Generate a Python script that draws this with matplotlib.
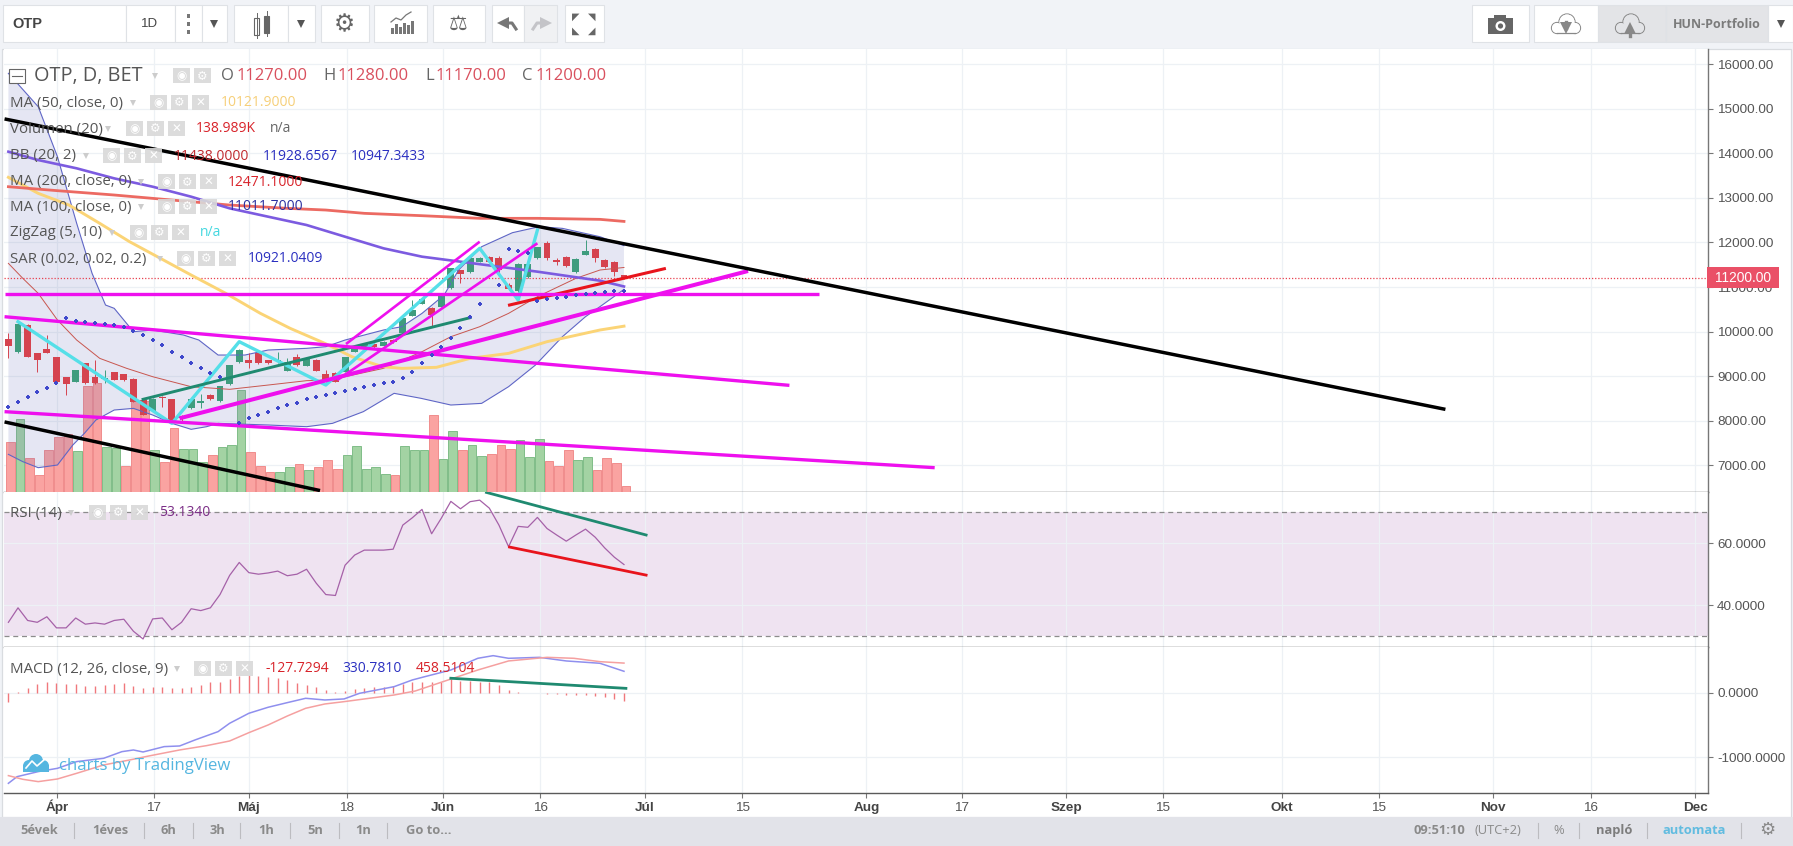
#!/usr/bin/env python3
"""OTP daily chart with indicators, drawn on a TradingView style screen."""
import numpy as np
import matplotlib
matplotlib.use("Agg")
import matplotlib.pyplot as plt
from matplotlib.patches import Rectangle, Circle

W, H = 1793, 846
UI_FONT = ["Open Sans", "DejaVu Sans"]
AXIS_FONT = ["Liberation Sans", "DejaVu Sans"]

# candles: open, high, low, close per bar
opens = [9830, 9535, 10150, 9510, 9610, 9440, 8990, 8880, 9290, 8990, 8930, 9090, 9040, 8940, 8470, 8230, 8540,
         8490, 8100, 8280, 8410, 8580, 8440, 8820, 9310, 9360, 9510, 9360, 9330, 9120, 9440, 9240, 9360, 9050,
         9080, 9100, 9550, 9620, 9730, 9680, 9820, 9960, 10350, 10620, 10540, 10560, 10970, 11380, 11330, 11570,
         11680, 11640, 11040, 10900, 11230, 11640, 11980, 11610, 11680, 11340, 11720, 11850, 11600, 11570, 11270]
highs = [9960, 10200, 10170, 9510, 9920, 9440, 8990, 9150, 9290, 9360, 9140, 9100, 9050, 8950, 8480, 8510, 8560,
         8500, 8130, 8510, 8610, 8590, 8790, 9260, 9610, 9510, 9530, 9370, 9550, 9400, 9500, 9420, 9380, 9150,
         9100, 9430, 9680, 9750, 9750, 9800, 9840, 10310, 10720, 10740, 10560, 10820, 11430, 11390, 11660, 11680,
         11690, 11690, 11080, 11530, 11530, 11900, 12030, 11640, 11700, 11650, 12054, 11870, 11620, 11590, 11280]
lows = [9400, 9530, 9430, 9100, 9510, 8870, 8580, 8870, 8830, 8830, 8840, 8910, 8900, 8420, 8120, 8220, 8300,
        8000, 8000, 8270, 8280, 8470, 8430, 8810, 9300, 9180, 9280, 9280, 9300, 9110, 9240, 9230, 9110, 8870,
        8860, 9090, 9540, 9610, 9640, 9670, 9750, 9950, 10340, 10610, 10110, 10550, 10960, 11080, 11320, 11560,
        11560, 11300, 10940, 10890, 11200, 11620, 11600, 11500, 11440, 11320, 11710, 11550, 11420, 11250, 11170]
closes = [9680, 10170, 9440, 9360, 9530, 8880, 8820, 9140, 8840, 8840, 8970, 8920, 8920, 8430, 8130, 8500, 8510,
          8020, 8060, 8500, 8440, 8480, 8780, 9250, 9590, 9300, 9290, 9300, 9360, 9320, 9250, 9400, 9120, 8880,
          8880, 9420, 9660, 9730, 9660, 9770, 9760, 10300, 10480, 10730, 10370, 10800, 11420, 11290, 11640, 11660,
          11570, 11380, 10950, 11510, 11510, 11890, 11640, 11550, 11460, 11630, 11800, 11640, 11440, 11340, 11200]

# volume in thousands, with the bar colour flag (1 green, 0 red)
volumes = [196, 288, 132, 64, 164, 216, 228, 160, 420, 432, 176, 172, 100, 360, 360, 164, 116, 252, 168, 168, 116,
           144, 176, 184, 404, 156, 100, 76, 76, 96, 108, 84, 96, 124, 88, 144, 180, 88, 96, 68, 64, 180, 164, 164,
           304, 128, 240, 164, 184, 140, 148, 184, 168, 204, 136, 208, 120, 100, 164, 124, 136, 84, 132, 112, 20]
volume_up = [0, 1, 0, 0, 0, 0, 0, 1, 0, 0, 1, 1, 0, 0, 0, 1, 0, 0, 1, 1, 1, 0, 1, 1, 1, 0, 0, 0, 1, 1, 0, 1, 0, 0,
             0, 1, 1, 1, 1, 1, 0, 1, 1, 1, 0, 1, 1, 0, 1, 1, 0, 0, 0, 1, 1, 1, 0, 0, 0, 1, 1, 0, 0, 0, 0]

# moving averages, read at sparse bars
ma50_x = [0, 3.1, 6.3, 9.5, 12.6, 15.8, 19, 22.6, 26.2, 29.3, 32.9, 35.7, 38.9, 40.9, 44.5, 48, 52, 56, 61.5, 64]
ma50_y = [13459, 13100, 12838, 12427, 12016, 11643, 11269, 10858, 10409, 10073, 9737, 9438, 9214, 9176, 9199,
          9400, 9512, 9774, 10036, 10122]
ma200_x = [0, 5.1, 11, 17, 23, 29, 33, 37, 43, 49, 55, 61.5, 64]
ma200_y = [13249, 13160, 13063, 12950, 12838, 12764, 12726, 12652, 12599, 12540, 12540, 12517, 12471]
ma100_x = [0, 3.1, 7.1, 11, 15, 19, 23, 27, 31, 35, 39, 43, 47, 51, 55, 61.5, 64]
ma100_y = [14034, 13847, 13661, 13436, 13249, 13025, 12764, 12577, 12390, 12128, 11867, 11680, 11568, 11456,
           11344, 11142, 11012]

# Bollinger bands
bb_mid_x = [0, 1.5, 3.1, 5.1, 7.1, 9.5, 12.3, 15, 19, 23, 27, 31, 33, 35, 39, 43, 46, 49, 52, 55, 59, 61.5, 64]
bb_mid_y = [11530, 11194, 10858, 10260, 9811, 9400, 9176, 8989, 8765, 8706, 8802, 8900, 8914, 8989, 9176, 9550,
            9886, 10110, 10409, 10783, 11194, 11381, 11438]
bb_up_x = [0, 3.1, 5.1, 7.1, 8.7, 10.1, 11, 13, 15, 18.2, 19.8, 21.8, 24.6, 27, 31, 33, 35, 39, 40.9, 43, 45.3,
           46.8, 49.2, 52.4, 55.2, 57.6, 61.5, 64]
bb_up_y = [15791, 15043, 13922, 12427, 11306, 10596, 10522, 9998, 10036, 9924, 9811, 9475, 9475, 9587, 9625, 9662,
           9811, 10036, 10110, 10409, 10820, 11381, 11904, 12218, 12353, 12315, 12128, 11928]
bb_lo_x = [0, 1.5, 3.1, 5.1, 6.7, 7.9, 9.1, 11, 13, 15, 17, 19, 20.6, 21.8, 27, 31, 33.7, 36.9, 40.1, 42.9, 46,
           49.2, 52, 54.8, 57.6, 60, 61.5, 64]
bb_lo_y = [7248, 7084, 6949, 7009, 7458, 7719, 8018, 8242, 8279, 8130, 7943, 7809, 7868, 7943, 7906, 7868, 7943,
           8205, 8616, 8504, 8354, 8391, 8765, 9251, 9886, 10335, 10559, 10947]

# parabolic SAR dots
sar_x = [0, 1, 2, 3, 4, 5, 6, 7, 8, 9, 10, 11, 12, 13, 14, 15, 16, 17, 18, 19, 20, 21, 22, 24, 25, 26, 27, 28, 29,
         30, 31, 32, 33, 34, 35, 36, 37, 38, 39, 40, 41, 42, 43, 44, 45, 46, 47, 48, 49, 51, 52, 53, 54, 55, 56,
         57, 58, 59, 60, 61, 62, 63, 64]
sar_y = [8317, 8429, 8541, 8653, 8743, 8840, 10312, 10245, 10208, 10185, 10163, 10148, 10110, 10021, 9924, 9811,
         9699, 9550, 9438, 9303, 9176, 9064, 8974, 7943, 8070, 8130, 8205, 8279, 8354, 8406, 8481, 8526, 8578, 8616,
         8668, 8705, 8765, 8802, 8840, 8877, 8967, 9101, 9288, 9475, 9662, 9864, 10088, 10335, 10619, 11037, 11852,
         11815, 11770, 10693, 10723, 10753, 10783, 10813, 10835, 10858, 10880, 10900, 10921]

# zigzag pivots
zig_x = [1, 17, 24, 33, 49, 53, 55]
zig_y = [10222, 7943, 9774, 8802, 11867, 10708, 12278]

# hand drawn trend lines: (x0, x1), (y0, y1), colour, width
black_lines = [((-0.4, 149.4), (14769, 8257)), ((-0.4, 32.4), (7975, 6436))]
magenta_lines = [((-0.4, 84.3), (10843, 10843), 2.4), ((-0.4, 81.2), (10334, 8795), 2.4),
                 ((-0.4, 96.3), (8205, 6949), 2.4), ((17.8, 76.9), (8056, 11359), 2.9),
                 ((35.1, 49), (9722, 12016), 1.9), ((34.2, 55), (8915, 11980), 1.9)]
teal_line = ((14, 48), (8482, 10312))
red_line = ((52.1, 68.2), (10596, 11410))
rsi_teal_line = ((49.7, 66.3), (76.5, 62.7))
rsi_red_line = ((52.1, 66.3), (58.8, 49.7))
macd_teal_line = ((46, 64.2), (223, 67))

# RSI per bar
rsi = [34.4, 39.1, 35, 34.4, 36.2, 32.6, 32.6, 35.8, 33.8, 34.2, 33.8, 35, 35.4, 31.5, 29, 35.5, 35.8, 32, 34.4,
       38.8, 38.2, 39.1, 43.4, 49.6, 53.8, 50.5, 50, 50.4, 51, 49.5, 50, 51.6, 47.1, 43.4, 43.1, 52.9, 56.2, 57.8,
       57.8, 57.8, 58.1, 65.9, 68.3, 71, 63.1, 68.1, 73.6, 71.2, 73.5, 74, 71.4, 65.9, 58.9, 65.5, 65.2, 68.4, 64.8,
       62.7, 60.7, 62.7, 64.6, 62, 58.5, 55.5, 53.13]

# MACD
macd_x = [0, 0.9, 3.1, 5.1, 7.1, 9.9, 11.8, 13, 14, 16.2, 17.8, 19.4, 21.8, 23, 25, 27, 29, 30.9, 32.9, 34.9, 36.5,
          40.1, 42, 43.3, 46, 48.8, 50.4, 52, 55.2, 58, 61.5, 64]
macd_y = [-1403, -1300, -1222, -1171, -1067, -1016, -913, -887, -918, -835, -825, -732, -603, -474, -319, -226,
          -154, -87, -113, -97, -10, 93, 197, 248, 351, 532, 573, 532, 547, 491, 455, 331]
signal_x = [0, 1.5, 3.1, 5.1, 7.1, 9.9, 12.6, 14.6, 17.8, 20.6, 23, 25, 27, 29, 30.9, 32.9, 34.9, 40.1, 42.3, 45.2,
            48.8, 52, 56, 58.8, 61.5, 64]
signal_y = [-1284, -1341, -1377, -1336, -1248, -1119, -1042, -980, -887, -820, -748, -619, -500, -361, -242, -175,
            -139, -36, 26, 171, 351, 491, 547, 532, 480, 458]
macd_hist = [-140, 15, 70, 130, 170, 145, 130, 130, 110, 110, 120, 130, 145, 110, 70, 90, 90, 70, 70, 90, 120, 160,
             170, 206, 263, 273, 263, 248, 222, 196, 144, 119, 83, 41, 15, 31, 52, 67, 83, 93, 103, 129, 170, 160,
             160, 170, 212, 181, 181, 170, 160, 119, 41, 15, 0, 0, -15, -20, -36, -36, -36, -46, -70, -100, -128]

# axis ticks
x_ticks = [5.1, 15.1, 25, 35.2, 45.2, 55.3, 66.2, 76.3, 89.2, 99.1, 110, 120, 132.4, 142.5, 154.3, 164.5, 175.4]
x_labels = ["Ápr", "17", "Máj", "18", "Jún", "16", "Júl", "15", "Aug", "17", "Szep", "15", "Okt", "15", "Nov", "16",
            "Dec"]
months = ["Ápr", "Máj", "Jún", "Júl", "Aug", "Szep", "Okt", "Nov", "Dec"]
price_ticks = [7000, 8000, 9000, 10000, 11000, 12000, 13000, 14000, 15000, 16000]
rsi_ticks = [40, 60]
macd_ticks = [-1000, 0]

LAST_PRICE = 11200
XLIM = (-0.457, 176.7)
GRID = "#edf1f5"
RED_C, GREEN_C = "#d5434f", "#3f9c7e"
PANE_LINE = "#5a5a5a"


def pane(fig, top, bottom, ylim, ticks, fmt):
    ax = fig.add_axes([4 / W, 1 - bottom / H, 1704 / W, (bottom - top) / H])
    ax.set_xlim(*XLIM)
    ax.set_ylim(*ylim)
    ax.set_xticks(x_ticks)
    ax.set_yticks(ticks)
    ax.set_yticklabels([fmt.format(t) for t in ticks], family=AXIS_FONT, fontsize=9.7, color="#555555")
    ax.yaxis.tick_right()
    ax.tick_params(axis="y", length=3.5, width=0.8, color="#777777", pad=3)
    ax.tick_params(axis="x", length=0, labelbottom=False)
    ax.grid(True, color=GRID, lw=0.9)
    ax.set_axisbelow(True)
    for side in ("top", "left"):
        ax.spines[side].set_visible(False)
    ax.spines["right"].set_color("#777777")
    ax.spines["right"].set_linewidth(1.0)
    ax.spines["bottom"].set_color(PANE_LINE)
    ax.spines["bottom"].set_linewidth(1.0)
    return ax


def draw_price_pane(fig):
    idx = np.arange(len(closes))
    ax_vol = pane(fig, 49.3, 491.5, (6415, 16330), price_ticks, "{:.2f}")
    ax_vol.set_facecolor("white")

    # volume shares the pane, its own scale is hidden
    ax_v = ax_vol.twinx()
    ax_vol.yaxis.tick_right()
    ax_v.set_xlim(*XLIM)
    ax_v.set_ylim(0, 1768)
    ax_v.axis("off")
    up = np.array(volume_up) == 1
    ax_v.bar(idx + 0.2, volumes, width=0.9, color=np.where(up, "#a3d3a3", "#faa3a1"),
             edgecolor=np.where(up, "#80bd88", "#f08c8c"), lw=0.7)

    ax = fig.add_axes(ax_vol.get_position(), sharex=ax_vol, sharey=ax_vol)
    ax.patch.set_visible(False)
    ax.axis("off")
    ax.fill(bb_up_x + bb_lo_x[::-1], bb_up_y + bb_lo_y[::-1], color="#6a6fb8", alpha=0.17, lw=0)
    ax.plot(bb_up_x, bb_up_y, color="#5f66c6", lw=0.8)
    ax.plot(bb_lo_x, bb_lo_y, color="#5f66c6", lw=0.8)
    ax.plot(bb_mid_x, bb_mid_y, color="#c8564f", lw=0.7)

    ax.axhline(LAST_PRICE, color="#e8404f", lw=0.9, ls=(0, (1, 1.5)))

    colors = [GREEN_C if c >= o else RED_C for o, c in zip(opens, closes)]
    ax.vlines(idx, lows, highs, color=colors, lw=0.7)
    bodies = np.abs(np.array(closes) - np.array(opens))
    ax.bar(idx, bodies, bottom=np.minimum(opens, closes), width=0.72, color=colors, lw=0)

    ax.plot(ma50_x, ma50_y, color="#fbd476", lw=2.1)
    ax.plot(ma200_x, ma200_y, color="#ec6a62", lw=2.0)
    ax.plot(ma100_x, ma100_y, color="#7c5be0", lw=1.9)
    ax.plot(zig_x, zig_y, color="#55dfe8", lw=2.4)
    ax.scatter(sar_x, sar_y, marker="P", s=6, color="#3f48cc", lw=0, zorder=7)

    ax.plot(*teal_line, color="#1f8a70", lw=2.1, zorder=5)
    ax.plot(*red_line, color="#e8141c", lw=2.2, zorder=5)
    for xs, ys, lw in magenta_lines:
        ax.plot(xs, ys, color="#ee10ee", lw=lw, zorder=5, solid_capstyle="butt")
    for xs, ys in black_lines:
        ax.plot(xs, ys, color="black", lw=2.5, zorder=6, solid_capstyle="butt")


def draw_rsi_pane(fig):
    ax = pane(fig, 491.5, 647, (26.4, 76.8), rsi_ticks, "{:.4f}")
    ax.axhspan(30, 70, color="#efe3f1", lw=0, zorder=0.5)
    ax.axhline(70, color="#8c8c8c", lw=0.9, ls=(0, (4, 3)))
    ax.axhline(30, color="#8c8c8c", lw=0.9, ls=(0, (4, 3)))
    ax.plot(np.arange(len(rsi)), rsi, color="#a561a8", lw=0.9)
    ax.plot(*rsi_teal_line, color="#1f8a70", lw=2.0)
    ax.plot(*rsi_red_line, color="#e8141c", lw=2.0)


def draw_macd_pane(fig):
    ax = pane(fig, 647, 793, (-1553, 707), macd_ticks, "{:.4f}")
    ax.vlines(np.arange(len(macd_hist)), 0, macd_hist, color="#f0787c", lw=1.0)
    ax.plot(macd_x, macd_y, color="#8f8fee", lw=1.1)
    ax.plot(signal_x, signal_y, color="#f5a0a0", lw=1.1)
    ax.plot(*macd_teal_line, color="#1f8a70", lw=2.0)
    ax.tick_params(axis="x", length=3.5, width=0.8, color="#777777", labelbottom=True, pad=9.5)
    ax.set_xticks(x_ticks)
    ax.set_xticklabels(x_labels, family=AXIS_FONT, fontsize=9.7, color="#555555", va="baseline")
    for lab in ax.get_xticklabels():
        if lab.get_text() in months:
            lab.set_fontweight("bold")
            lab.set_color("#444444")


def button(ui, x0, x1, y0=5, y1=42, fc="white"):
    ui.add_patch(Rectangle((x0, y0), x1 - x0, y1 - y0, fc=fc, ec="#dfe2e6", lw=0.8))


def arrow_down(ui, x, y, size=4.5, color="#555555"):
    ui.plot([x], [y], marker="v", ms=size, color=color, mew=0)


def icon(ui, x, y, glyph, size=13, color="#777777"):
    ui.text(x, y, glyph, ha="center", va="center", fontsize=size, color=color, family="DejaVu Sans")


def cloud(ui, cx, fc, up_arrow):
    blobs = [(cx - 9, 28, 5.5), (cx + 9, 28, 5.5), (cx + 1, 22, 8)]
    for x, y, r in blobs:
        ui.add_patch(Circle((x, y), r, fc=fc, ec="#888888", lw=0.9))
    for x, y, r in blobs:
        ui.add_patch(Circle((x, y), r - 0.4, fc=fc, ec="none"))
    ui.add_patch(Rectangle((cx - 9, 25), 18, 8.5, fc=fc, ec="none"))
    ui.plot([cx - 9, cx + 9], [33.5, 33.5], color="#888888", lw=0.9)
    ui.plot([cx], [28], marker="^" if up_arrow else "v", ms=8, color="#888888", mew=0)
    ui.plot([cx, cx], [28, 36] if up_arrow else [22, 28], color="#888888", lw=2.4)


def draw_toolbar(ui):
    ui.add_patch(Rectangle((0, 0), W, 48, fc="#f1f3f7", ec="none"))
    for x0, x1 in [(3, 126), (126, 174.5), (174.5, 201.7), (201.7, 227), (233.5, 288), (288, 314.6), (320.7, 368.5),
                   (374, 426.7), (432.5, 485), (492, 524), (564.5, 604), (1472, 1529), (1534, 1598), (1768, 1793)]:
        button(ui, x0, x1)
    for x0, x1 in [(524, 557), (1598, 1665.6), (1665.6, 1768)]:
        button(ui, x0, x1, fc="#f0f1f3" if x0 == 524 else "#e3e4e7")
    ui.text(12, 24, "OTP", fontsize=10.5, color="#444444", va="center", family=AXIS_FONT, fontweight="bold")
    ui.text(150, 24, "1D", fontsize=9.5, color="#444444", va="center", ha="center", family=AXIS_FONT)
    for y in (16, 24, 32):
        ui.add_patch(Rectangle((186.5, y - 1.5), 3.5, 3.5, fc="#777777", ec="none"))
    arrow_down(ui, 214, 24, 6)
    arrow_down(ui, 301, 24, 6)
    # candle button
    ui.add_patch(Rectangle((254, 18), 5, 17, fc="white", ec="#666666", lw=0.8))
    ui.add_patch(Rectangle((264, 16), 5, 17, fc="#666666", ec="#666666", lw=0.8))
    ui.plot([256.5, 256.5], [13, 38], color="#666666", lw=0.7)
    ui.plot([266.5, 266.5], [11, 36], color="#666666", lw=0.7)
    icon(ui, 344.5, 24, "⚙", 17, "#666666")
    icon(ui, 458.5, 24, "⚖", 15, "#666666")
    # indicators button
    for x, h in zip((391, 395, 399, 403, 407, 411), (6, 10, 7, 11, 9, 13)):
        ui.add_patch(Rectangle((x, 34 - h), 2.6, h, fc="#777777", ec="none"))
    ui.plot([391, 396, 401, 406, 411], [22, 18, 20, 15, 12], color="#777777", lw=0.9)
    # undo, redo
    ui.plot([503], [23], marker="<", ms=8, color="#777777", mew=0)
    ui.plot([506, 512, 516], [23, 23, 29], color="#777777", lw=2.2)
    ui.plot([546], [23], marker=">", ms=8, color="#c4c4c8", mew=0)
    ui.plot([543, 537, 533], [23, 23, 29], color="#c4c4c8", lw=2.2)
    for dx, dy, g in [(-8, -7, "◤"), (8, -7, "◥"), (-8, 7, "◣"), (8, 7, "◢")]:
        icon(ui, 584 + dx, 24 + dy, g, 7, "#666666")
    # camera and cloud buttons
    ui.add_patch(Rectangle((1488, 18), 25, 16, fc="#666666", ec="none"))
    ui.add_patch(Rectangle((1494, 15), 12, 4, fc="#666666", ec="none"))
    ui.add_patch(Circle((1500.5, 26), 5, fc="white", ec="none"))
    ui.add_patch(Circle((1500.5, 26), 2.6, fc="#666666", ec="none"))
    cloud(ui, 1566, "white", False)
    cloud(ui, 1630, "#e3e4e7", True)
    ui.text(1717, 24, "HUN-Portfolio", fontsize=9, fontweight="bold", color="#7b7b7b", va="center", ha="center",
            family=UI_FONT)
    arrow_down(ui, 1781, 24, 6)


def draw_bottom_bar(ui):
    ui.add_patch(Rectangle((0, 817), W, 29, fc="#e2e3e9", ec="none"))
    for x, s in zip((39, 110, 168, 217, 266, 315, 363, 429), ("5évek", "1éves", "6h", "3h", "1h", "5n", "1n", "Go to...")):
        ui.text(x, 830.5, s, fontsize=9.3, fontweight="bold", color="#8a8a8a", ha="center", va="center",
                family=UI_FONT)
    for x in (73.5, 143.5, 192.5, 240, 290, 339, 386.5, 1537.5, 1579, 1647, 1741):
        ui.plot([x, x], [823, 838], color="#bcbcc0", lw=0.8)
    ui.text(1439, 830.5, "09:51:10", fontsize=9.3, fontweight="bold", color="#8a8a8a", ha="center", va="center",
            family=UI_FONT)
    ui.text(1498, 830.5, "(UTC+2)", fontsize=9.3, color="#8a8a8a", ha="center", va="center", family=UI_FONT)
    ui.text(1559, 830.5, "%", fontsize=9.3, color="#8a8a8a", ha="center", va="center", family=UI_FONT)
    ui.text(1614, 830.5, "napló", fontsize=9.3, fontweight="bold", color="#7d7d7d", ha="center", va="center",
            family=UI_FONT)
    ui.text(1694, 830.5, "automata", fontsize=9.3, fontweight="bold", color="#62bce0", ha="center", va="center",
            family=UI_FONT)
    icon(ui, 1767, 830, "⚙", 13, "#8a8a8a")


def legend_boxes(ui, x, y, count=3):
    glyphs = ["◉", "⚙", "✕"][:count]
    for i, g in enumerate(glyphs):
        bx = x + i * 21
        ui.add_patch(Rectangle((bx, y - 7.5), 17, 15, fc="#d9d9d9", ec="none", alpha=0.9))
        icon(ui, bx + 8.5, y, g, 8.5, "white")


def legend_row(ui, name, y, box_x, values, arrow_x=None):
    ui.text(9.5, y, name, fontsize=10.8, color="#555555", va="center", family=UI_FONT)
    if arrow_x is not None:
        arrow_down(ui, arrow_x, y, 4.2, "#cccccc")
    legend_boxes(ui, box_x, y)
    for x, s, c in values:
        ui.text(x, y, s, fontsize=10, color=c, va="center", family=UI_FONT)


def draw_legend(ui):
    ui.add_patch(Rectangle((9, 69), 16, 14, fc="white", ec="#666666", lw=0.8))
    ui.plot([12, 22], [76, 76], color="#666666", lw=0.8)
    ui.text(34, 76, "OTP, D, BET", fontsize=14.3, color="#555555", va="center", family=UI_FONT)
    arrow_down(ui, 155, 76, 4.5, "#cccccc")
    legend_boxes(ui, 173, 76, count=2)
    for x, s in zip((221, 323, 425, 522), "OHLC"):
        ui.text(x, 76, s, fontsize=12, color="#666666", va="center", family=UI_FONT)
    for x, s in zip((237, 338, 436, 536), ("11270.00", "11280.00", "11170.00", "11200.00")):
        ui.text(x, 76, s, fontsize=12, color="#d9505e", va="center", family=UI_FONT)

    legend_row(ui, "MA (50, close, 0)", 103, 150, [(221, "10121.9000", "#f6cf78")], 133)
    legend_row(ui, "Volumen (20)", 129, 126, [(196, "138.989K", "#d8232a"), (270, "n/a", "#666666")], 108)
    legend_row(ui, "BB (20, 2)", 156, 103, [(174, "11438.0000", "#c0282d"), (263, "11928.6567", "#2a2fc0"),
                                            (351, "10947.3433", "#2a2fc0")], 86)
    legend_row(ui, "MA (200, close, 0)", 182, 158, [(228, "12471.1000", "#d8232a")], 141)
    legend_row(ui, "MA (100, close, 0)", 207, 158, [(228, "11011.7000", "#2a2fa0")], 141)
    legend_row(ui, "ZigZag (5, 10)", 233, 130, [(200, "n/a", "#45d8e0")], 112)
    legend_row(ui, "SAR (0.02, 0.02, 0.2)", 259, 177, [(248, "10921.0409", "#2a2fc0")], 160)
    legend_row(ui, "RSI (14)", 513, 89, [(159, "53.1340", "#7b2d86")], 71)
    legend_row(ui, "MACD (12, 26, close, 9)", 669, 194, [(265, "-127.7294", "#d8232a"), (342.5, "330.7810", "#2a2fc0"),
                                                         (416, "458.5104", "#d8232a")], 177)


def draw_price_label(ui):
    ui.add_patch(Rectangle((1707, 267.5), 72, 21, fc="#ea5067", ec="none"))
    ui.text(1743, 278, f"{LAST_PRICE:.2f}", fontsize=9.9, color="white", ha="center", va="center", family=AXIS_FONT)


def draw_watermark(ui):
    color = "#55b6e0"
    for cx, cy, r in ((29, 766, 6), (36, 761, 7), (43, 766, 6)):
        ui.add_patch(Circle((cx, cy), r, fc=color, ec="none"))
    ui.add_patch(Rectangle((23, 765), 26, 7, fc=color, ec="none"))
    ui.plot([26, 32, 37, 45], [768, 761, 766, 759], color="white", lw=1.2)
    ui.text(59, 766, "charts by TradingView", fontsize=12.1, color=color, va="center", family=UI_FONT)


def main():
    fig = plt.figure(figsize=(W / 100, H / 100), dpi=100, facecolor="#f1f3f7")

    back = fig.add_axes([0, 0, 1, 1], zorder=-1)
    back.set_xlim(0, W)
    back.set_ylim(H, 0)
    back.axis("off")
    back.add_patch(Rectangle((1.5, 49), 1789.5, 768, fc="white", ec="#d9dce0", lw=0.9))

    draw_price_pane(fig)
    draw_rsi_pane(fig)
    draw_macd_pane(fig)

    ui = fig.add_axes([0, 0, 1, 1], zorder=20)
    ui.set_xlim(0, W)
    ui.set_ylim(H, 0)
    ui.axis("off")
    ui.patch.set_visible(False)
    draw_toolbar(ui)
    draw_bottom_bar(ui)
    draw_legend(ui)
    draw_price_label(ui)
    draw_watermark(ui)
    ui.set_xlim(0, W)
    ui.set_ylim(H, 0)

    fig.savefig("out.png", dpi=100)


if __name__ == "__main__":
    main()
